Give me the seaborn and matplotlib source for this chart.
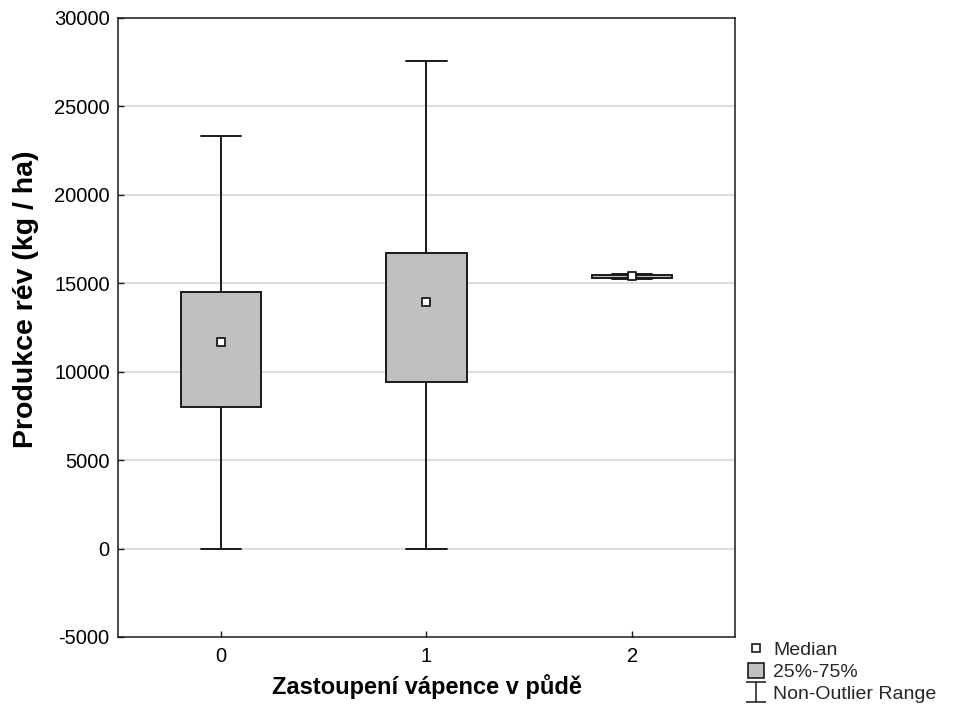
import pandas as pd
import matplotlib.pyplot as plt
import seaborn as sns
from matplotlib.lines import Line2D
from matplotlib.patches import Patch
from matplotlib.path import Path
from matplotlib.ticker import FuncFormatter

# --- Data ---
groups = ["0", "1", "2"]
whisker_low = [0, 0, 15250]
q1 = [8030, 9440, 15320]
medians = [11700, 13950, 15400]
q3 = [14530, 16700, 15440]
whisker_high = [23320, 27580, 15500]

# five-number summary per group -> seaborn computes the same quartiles back
rows = []
for g, lo, a, m, b, hi in zip(groups, whisker_low, q1, medians, q3, whisker_high):
    for v in (lo, a, m, b, hi):
        rows.append({"group": g, "value": v})
df = pd.DataFrame(rows)
df_med = pd.DataFrame({"group": groups, "value": medians})

# --- Style ---
sns.set_style("white")
plt.rcParams["font.family"] = ["Liberation Sans", "DejaVu Sans"]
EDGE = "#1a1a1a"
BOX = "#c0c0c0"

fig = plt.figure(figsize=(9.56, 7.17), dpi=100)
ax = fig.add_axes([0.1234, 0.1116, 0.6454, 0.8633])

sns.boxplot(data=df, x="group", y="value", order=groups, whis=(0, 100),
            width=0.39, color=BOX, saturation=1, linewidth=1.4,
            linecolor=EDGE, showfliers=False,
            medianprops={"visible": False}, ax=ax, zorder=3)
sns.stripplot(data=df_med, x="group", y="value", order=groups, jitter=False,
              marker="s", size=5.5, color="white", edgecolor=EDGE, linewidth=1.3,
              ax=ax, zorder=5)

ax.set_ylim(-5000, 30000)
ax.set_xlim(-0.5, 2.5)
ax.set_yticks(range(-5000, 30001, 5000))
ax.yaxis.set_major_formatter(FuncFormatter(lambda v, p: f"{int(v)}"))
for y in range(0, 30000, 5000):
    ax.axhline(y, color="#d4d4d4", linewidth=1.1, zorder=0)

for s in ax.spines.values():
    s.set_visible(True)
    s.set_color(EDGE)
    s.set_linewidth(1.1)
ax.tick_params(axis="both", which="both", direction="in", length=4,
               width=1, color=EDGE, labelsize=14.5, labelcolor="black",
               bottom=True, left=True, top=False, right=False)
ax.tick_params(axis="x", pad=7)
ax.tick_params(axis="y", pad=6)

ax.set_xlabel("Zastoupení vápence v půdě", fontsize=17, fontweight="bold",
              labelpad=6, color="black")
ax.set_ylabel("Produkce rév (kg / ha)", fontsize=20.5, fontweight="bold",
              color="black")
ax.yaxis.set_label_coords(-0.128, 0.546)

# legend with the whisker glyph
whisker_path = Path([(-1, 1), (1, 1), (0, 1), (0, -1), (-1, -1), (1, -1)],
                    [Path.MOVETO, Path.LINETO, Path.MOVETO, Path.LINETO,
                     Path.MOVETO, Path.LINETO])
handles = [
    Line2D([], [], linestyle="none", marker="s", markersize=5.5,
           markerfacecolor="white", markeredgecolor=EDGE, markeredgewidth=1.2),
    Patch(facecolor=BOX, edgecolor=EDGE, linewidth=1.2),
    Line2D([], [], linestyle="none", marker=whisker_path, markersize=14,
           markeredgecolor=EDGE, markeredgewidth=1.1, fillstyle="none"),
]
fig.legend(handles, ["Median", "25%-75%", "Non-Outlier Range"],
           loc="lower left", bbox_to_anchor=(0.773, 0.007), frameon=False,
           fontsize=14, handlelength=0.85, handleheight=0.85, handletextpad=0.45,
           labelspacing=0.18, borderaxespad=0.25, borderpad=0.2)

plt.savefig("out.png", dpi=100)
